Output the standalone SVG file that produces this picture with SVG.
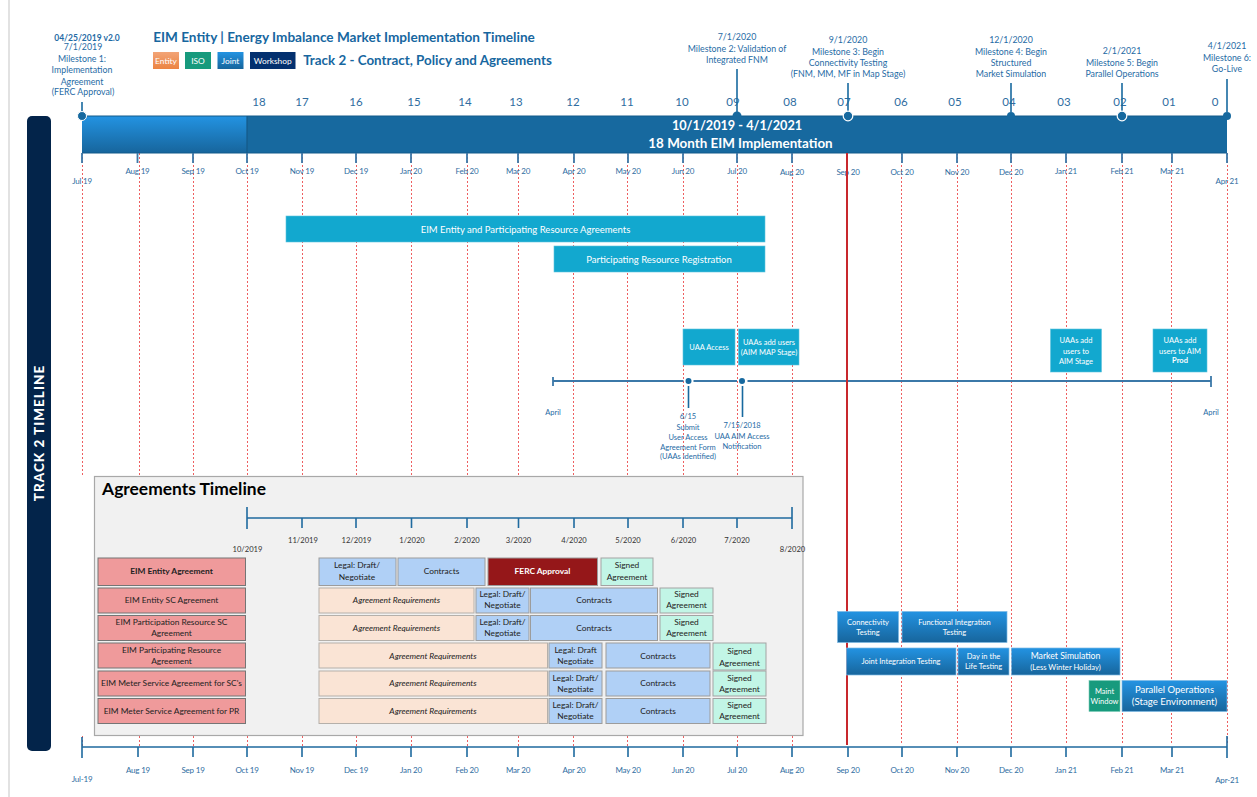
<svg xmlns="http://www.w3.org/2000/svg" width="1257" height="797" viewBox="0 0 1257 797">
<style>
text{font-family:Lato,"Open Sans","Liberation Sans",sans-serif;text-anchor:middle}
.ms{font-size:8.8px;fill:#1f6ba5}
.mo{font-family:"Liberation Sans",Arial,sans-serif;font-size:8px;fill:#2f6d9f;letter-spacing:-.2px}
.cd{font-size:11.5px;fill:#2f6d9f}
.ax{stroke:#1f6a9f;stroke-width:1.6;fill:none}
.axs{stroke:#3b78a8;stroke-width:1.8;fill:none}
.ms-line{stroke:#17699f;stroke-width:1.6;fill:none}
.dash{stroke:#ee5f60;stroke-width:1;stroke-dasharray:2 2;fill:none}
.w{fill:#fff}
.t8{font-size:7.500px}
.cy{fill:#12a8cf;stroke:#5fc3de;stroke-width:.6}
.grad{fill:url(#blue);stroke:#7db9e4;stroke-width:.7}
.r{fill:#ef9a9b;stroke:#757575;stroke-width:1}
.b{fill:#b0d0f6;stroke:#9c9c9c;stroke-width:1}
.p{fill:#fae4d5;stroke:#b5b0aa;stroke-width:1}
.g{fill:#c2f5e6;stroke:#a3a3a3;stroke-width:1}
.k{font-size:8.4px;fill:#222}
.i{font-style:italic}
.d{font-size:7.6px;fill:#333}
.lg{font-size:8.4px;fill:#fff}
</style>
<defs>
<linearGradient id="blue" x1="0" y1="0" x2="0" y2="1"><stop offset="0" stop-color="#2393e2"/><stop offset="1" stop-color="#17659c"/></linearGradient>
<linearGradient id="or" x1="0" y1="0" x2="0" y2="1"><stop offset="0" stop-color="#f2a477"/><stop offset="1" stop-color="#ec8442"/></linearGradient>
</defs>
<rect x="8" y="0" width="2" height="797" fill="#e2e2e2"/>

<g id="gridlines">
<path class="dash" d="M82.500 153V476M139.500 153V476M193.500 153V476M247.500 153V476M302.500 153V476M356.500 153V476M411.500 153V476M467.500 153V476M518.500 153V476M573.500 153V476M627.500 153V476M683.500 153V476M737.500 153V476M792.500 153V476"/>
<path class="dash" d="M82.500 736V746M139.500 736V746M193.500 736V746M247.500 736V746M302.500 736V746M356.500 736V746M411.500 736V746M467.500 736V746M518.500 736V746M573.500 736V746M627.500 736V746M683.500 736V746M737.500 736V746M792.500 736V746"/>
<path class="dash" d="M901.500 153V745M957.500 153V745M1011.500 153V745M1066.500 153V745M1122.500 153V745M1171.500 153V745M1227.500 153V745"/>
</g>

<g id="track-label"><rect x="27" y="116" width="24" height="635" rx="5" fill="#03244a"/>
<text transform="translate(43.500 433) rotate(-90)" font-size="13.500" font-weight="900" fill="#fff" letter-spacing="1">TRACK 2 TIMELINE</text></g>

<g id="header">
<text x="87" y="41" font-size="8.500" font-weight="700" fill="#1f6ba5">04/25/2019  v2.0</text>
<text x="344" y="42" font-size="13.600" font-weight="700" fill="#17679f">EIM Entity | Energy Imbalance Market Implementation Timeline</text>
<text x="427.500" y="65" font-size="13.400" font-weight="700" fill="#17679f">Track 2 - Contract, Policy and Agreements</text>
</g>
<g id="legend">
<rect x="153" y="52" width="26" height="17" fill="url(#or)"/><text class="lg" x="166" y="64">Entity</text>
<rect x="185" y="52" width="26" height="17" fill="#179a7d"/><text class="lg" x="198" y="64">ISO</text>
<rect x="217.500" y="52" width="26" height="17" fill="url(#blue)"/><text class="lg" x="230.500" y="64">Joint</text>
<rect x="250" y="52" width="45.500" height="17" fill="#03306f"/><text class="lg" x="272.700" y="64">Workshop</text>
</g>

<g id="main-bar">
<rect x="82" y="116" width="1145" height="37" fill="#17699f"/>
<rect x="82" y="116" width="165" height="37" fill="url(#blue)"/>
<path d="M247 116V153" stroke="#155a88" stroke-width="1.200"/>
<path d="M82 116H1227M82 153H1227" stroke="#125a8a" stroke-width="1"/>
<text class="w" x="737" y="130" font-size="12.700" font-weight="700">10/1/2019 - 4/1/2021</text>
<text class="w" x="740.500" y="148" font-size="13.400" font-weight="700">18 Month EIM Implementation</text>
</g>

<g id="countdown">
<text class="cd" x="259" y="106">18</text><text class="cd" x="302" y="106">17</text><text class="cd" x="356" y="106">16</text><text class="cd" x="414" y="106">15</text><text class="cd" x="465" y="106">14</text><text class="cd" x="516" y="106">13</text><text class="cd" x="573" y="106">12</text><text class="cd" x="627" y="106">11</text><text class="cd" x="682" y="106">10</text><text class="cd" x="733" y="106">09</text><text class="cd" x="790" y="106">08</text><text class="cd" x="844" y="106">07</text><text class="cd" x="901" y="106">06</text><text class="cd" x="955" y="106">05</text><text class="cd" x="1009" y="106">04</text><text class="cd" x="1064" y="106">03</text><text class="cd" x="1120" y="106">02</text><text class="cd" x="1169" y="106">01</text><text class="cd" x="1215" y="106">0</text>
</g>

<g id="top-ticks">
<path class="axs" d="M82 153V163M137.500 153V163M193 153V163M247 153V163M302 153V163M356 153V163M411 153V163M467 153V163M518 153V163M574 153V163M628 153V163M683 153V163M737 153V163M792 153V163M847 153V163M902 153V163M957 153V163M1011 153V163M1066 153V163M1122 153V163M1172 153V163M1227 153V163"/>
<g class="mo">
<text x="82" y="184">Jul 19</text><text x="137.500" y="174">Aug 19</text><text x="193" y="174">Sep 19</text><text x="247" y="174">Oct 19</text><text x="302" y="174">Nov 19</text><text x="356" y="174">Dec 19</text><text x="411" y="174">Jan 20</text><text x="467" y="174">Feb 20</text><text x="518" y="174">Mar 20</text><text x="574" y="174">Apr 20</text><text x="628" y="174">May 20</text><text x="683" y="174">Jun 20</text><text x="737" y="174">Jul 20</text><text x="792" y="175">Aug 20</text><text x="848" y="175">Sep 20</text><text x="902" y="175">Oct 20</text><text x="957" y="175">Nov 20</text><text x="1011" y="175">Dec 20</text><text x="1066" y="174">Jan 21</text><text x="1122" y="174">Feb 21</text><text x="1172" y="174">Mar 21</text><text x="1227" y="184">Apr 21</text>
</g>
</g>

<g id="milestone-1">
<path class="ms-line" d="M82 102V112"/><circle cx="82" cy="116" r="4.500" fill="#17699f" stroke="#fff" stroke-width="1"/>
<text class="ms" x="83" y="50">7/1/2019</text><text class="ms" x="82" y="62">Milestone 1:</text><text class="ms" x="82" y="73">Implementation</text><text class="ms" x="82" y="85">Agreement</text><text class="ms" x="83" y="95">(FERC Approval)</text>
</g>
<g id="milestone-2">
<path class="ms-line" d="M737 69V112"/><circle cx="737" cy="116" r="4.500" fill="#17699f"/>
<text class="ms" x="737" y="40">7/1/2020</text><text class="ms" x="737" y="52">Milestone 2: Validation of</text><text class="ms" x="737" y="63">Integrated FNM</text>
</g>
<g id="milestone-3">
<path class="ms-line" d="M848 83V112"/><circle cx="848" cy="116" r="4.800" fill="#17699f" stroke="#fff" stroke-width="1.200"/>
<text class="ms" x="848" y="43">9/1/2020</text><text class="ms" x="848" y="55">Milestone 3: Begin</text><text class="ms" x="848" y="66">Connectivity Testing</text><text class="ms" x="848" y="77">(FNM, MM, MF in Map Stage)</text>
</g>
<g id="milestone-4">
<path class="ms-line" d="M1011 83V112"/><circle cx="1011" cy="116" r="4" fill="#17699f"/>
<text class="ms" x="1011" y="43">12/1/2020</text><text class="ms" x="1011" y="55">Milestone 4: Begin</text><text class="ms" x="1011" y="66">Structured</text><text class="ms" x="1011" y="77">Market Simulation</text>
</g>
<g id="milestone-5">
<path class="ms-line" d="M1122 83V112"/><circle cx="1122" cy="116" r="4.800" fill="#17699f" stroke="#fff" stroke-width="1.200"/>
<text class="ms" x="1122" y="54">2/1/2021</text><text class="ms" x="1122" y="66">Milestone 5: Begin</text><text class="ms" x="1122" y="77">Parallel Operations</text>
</g>
<g id="milestone-6">
<path class="ms-line" d="M1227 79V112"/><circle cx="1227" cy="116" r="4" fill="#17699f"/>
<text class="ms" x="1227" y="49">4/1/2021</text><text class="ms" x="1227" y="61">Milestone 6:</text><text class="ms" x="1227" y="72">Go-Live</text>
</g>

<g id="bar-agreements"><rect class="cy" x="286" y="216" width="479" height="26"/><text class="w" x="525.500" y="232.500" font-size="9.500px">EIM Entity and Participating Resource Agreements</text></g>
<g id="bar-registration"><rect class="cy" x="554" y="246" width="211" height="26"/><text class="w" x="659" y="262.500" font-size="9.500px">Participating Resource Registration</text></g>

<g id="uaa-axis">
<path class="axs" d="M553 381H683.500M693.500 381H737M747.500 381H1211M553 377V386M1211 376V387"/>
<circle cx="688.500" cy="381" r="3" fill="#17699f"/><circle cx="742" cy="381" r="3" fill="#17699f"/>
<path class="ms-line" d="M688.500 386V408M742.500 386V417"/>
<text class="ms" style="font-size:7.500px" x="553" y="415">April</text><text class="ms" style="font-size:7.500px" x="1211" y="415">April</text>
<g class="ms" style="font-size:7.500px">
<text x="688" y="419">6/15</text><text x="688" y="430">Submit</text><text x="688" y="440">User Access</text><text x="688" y="450">Agreement Form</text><text x="688" y="459">(UAAs identified)</text>
<text x="742" y="428">7/15/2018</text><text x="742" y="439">UAA AIM Access</text><text x="742" y="449">Notification</text>
</g>
</g>
<g id="uaa-access"><rect class="cy" x="683" y="329" width="52" height="36"/><text class="w t8" x="709" y="350">UAA Access</text></g>
<g id="uaa-map"><rect class="cy" x="738.500" y="329" width="60.500" height="36"/><text class="w t8" x="769" y="345">UAAs add users</text><text class="w t8" x="769" y="355">(AIM MAP Stage)</text></g>
<g id="uaa-stage"><rect class="cy" x="1050.500" y="329" width="51" height="43"/><text class="w t8" x="1076" y="343">UAAs add</text><text class="w t8" x="1076" y="354">users to</text><text class="w t8" x="1076" y="364">AIM Stage</text></g>
<g id="uaa-prod"><rect class="cy" x="1153" y="329" width="54" height="43"/><text class="w t8" x="1180" y="343">UAAs add</text><text class="w t8" x="1180" y="354">users to AIM</text><text class="w t8" x="1180" y="363" font-weight="700">Prod</text></g>

<g id="agreements-panel">
<rect x="94.500" y="476.500" width="708.500" height="259" fill="#f1f1f1" stroke="#a8a8a8" stroke-width="1.200"/>
<text x="184" y="495" font-size="17.400" font-weight="700" fill="#000">Agreements Timeline</text>
<path class="ax" d="M247 518H792M247 507V529M792 507V529M302 518V528M356 518V528M411.500 518V528M467 518V528M518.500 518V528M574 518V528M628 518V528M683 518V528M737 518V528"/>
<text class="d" x="247.500" y="552">10/2019</text><text class="d" x="303" y="543">11/2019</text><text class="d" x="356.500" y="543">12/2019</text><text class="d" x="412" y="543">1/2020</text><text class="d" x="467" y="543">2/2020</text><text class="d" x="518.500" y="543">3/2020</text><text class="d" x="574" y="543">4/2020</text><text class="d" x="628" y="543">5/2020</text><text class="d" x="683.500" y="543">6/2020</text><text class="d" x="737" y="543">7/2020</text><text class="d" x="792.500" y="552">8/2020</text>
</g>

<g id="row-1">
<rect class="r" x="98" y="558" width="147.500" height="27.500"/><text class="k" font-weight="700" x="171.500" y="574">EIM Entity Agreement</text>
<rect class="b" x="319" y="558" width="77" height="27.500"/><text class="k" x="357" y="568">Legal: Draft/</text><text class="k" x="357" y="579.500">Negotiate</text>
<rect class="b" x="398" y="558" width="87" height="27.500"/><text class="k" x="441.500" y="574">Contracts</text>
<rect x="488" y="558" width="109.500" height="27.500" fill="#951719" stroke="#9c9c9c"/><text class="w" font-size="8.400px" font-weight="700" x="542.500" y="574">FERC Approval</text>
<rect class="g" x="601" y="558" width="52" height="27.500"/><text class="k" x="627" y="568">Signed</text><text class="k" x="627" y="579.500">Agreement</text>
</g>
<g id="row-2">
<rect class="r" x="98" y="588" width="147.500" height="25"/><text class="k" x="171.500" y="603">EIM Entity SC Agreement</text>
<rect class="p" x="319" y="588" width="155" height="25"/><text class="k i" x="396.500" y="603">Agreement Requirements</text>
<rect class="b" x="476" y="588" width="53" height="25"/><text class="k" x="502.500" y="597">Legal: Draft/</text><text class="k" x="502.500" y="608">Negotiate</text>
<rect class="b" x="530.500" y="588" width="127" height="25"/><text class="k" x="594" y="603">Contracts</text>
<rect class="g" x="660" y="588" width="53" height="25"/><text class="k" x="686.500" y="597">Signed</text><text class="k" x="686.500" y="608">Agreement</text>
</g>
<g id="row-3">
<rect class="r" x="98" y="615.500" width="147.500" height="25"/><text class="k" x="171.500" y="625">EIM Participation Resource SC</text><text class="k" x="171.500" y="636">Agreement</text>
<rect class="p" x="319" y="615.500" width="155" height="25"/><text class="k i" x="396.500" y="631">Agreement Requirements</text>
<rect class="b" x="476" y="615.500" width="53" height="25"/><text class="k" x="502.500" y="625">Legal: Draft/</text><text class="k" x="502.500" y="636">Negotiate</text>
<rect class="b" x="530.500" y="615.500" width="127" height="25"/><text class="k" x="594" y="631">Contracts</text>
<rect class="g" x="660" y="615.500" width="53" height="25"/><text class="k" x="686.500" y="625">Signed</text><text class="k" x="686.500" y="636">Agreement</text>
</g>
<g id="row-4">
<rect class="r" x="98" y="643" width="147.500" height="25"/><text class="k" x="171.500" y="653">EIM Participating Resource</text><text class="k" x="171.500" y="664">Agreement</text>
<rect class="p" x="319" y="643" width="228.500" height="25"/><text class="k i" x="433" y="658.500">Agreement Requirements</text>
<rect class="b" x="549" y="643" width="53" height="25"/><text class="k" x="575.500" y="653">Legal: Draft</text><text class="k" x="575.500" y="664">Negotiate</text>
<rect class="b" x="606" y="643" width="104" height="25"/><text class="k" x="658" y="658.500">Contracts</text>
<rect class="g" x="713" y="643" width="53" height="27"/><text class="k" x="739.500" y="654">Signed</text><text class="k" x="739.500" y="665.500">Agreement</text>
</g>
<g id="row-5">
<rect class="r" x="98" y="671" width="147.500" height="25"/><text class="k" x="171.500" y="686">EIM Meter Service Agreement for SC's</text>
<rect class="p" x="319" y="671" width="228.500" height="25"/><text class="k i" x="433" y="686">Agreement Requirements</text>
<rect class="b" x="549" y="671" width="53" height="25"/><text class="k" x="575.500" y="680.500">Legal: Draft/</text><text class="k" x="575.500" y="691.500">Negotiate</text>
<rect class="b" x="606" y="671" width="104" height="25"/><text class="k" x="658" y="686">Contracts</text>
<rect class="g" x="713" y="671" width="53" height="25"/><text class="k" x="739.500" y="680.500">Signed</text><text class="k" x="739.500" y="691.500">Agreement</text>
</g>
<g id="row-6">
<rect class="r" x="98" y="698.500" width="147.500" height="25"/><text class="k" x="171.500" y="714">EIM Meter Service Agreement for PR</text>
<rect class="p" x="319" y="698.500" width="228.500" height="25"/><text class="k i" x="433" y="714">Agreement Requirements</text>
<rect class="b" x="549" y="698.500" width="53" height="25"/><text class="k" x="575.500" y="708">Legal: Draft/</text><text class="k" x="575.500" y="719">Negotiate</text>
<rect class="b" x="606" y="698.500" width="104" height="25"/><text class="k" x="658" y="714">Contracts</text>
<rect class="g" x="713" y="698.500" width="53" height="25"/><text class="k" x="739.500" y="708">Signed</text><text class="k" x="739.500" y="719">Agreement</text>
</g>

<path id="today-line" d="M847 153V745" stroke="#c8282d" stroke-width="2"/>

<g id="connectivity"><rect class="grad" x="837.500" y="611.500" width="61" height="31"/><text class="w t8" x="868" y="625">Connectivity</text><text class="w t8" x="868" y="635">Testing</text></g>
<g id="functional"><rect class="grad" x="902" y="611.500" width="105" height="31"/><text class="w t8" x="954.500" y="625">Functional Integration</text><text class="w t8" x="954.500" y="635">Testing</text></g>
<g id="joint"><rect class="grad" x="846.500" y="648" width="109.500" height="27"/><text class="w t8" x="901" y="664">Joint Integration Testing</text></g>
<g id="day-life"><rect class="grad" x="958" y="648" width="51" height="27"/><text class="w t8" x="983.500" y="659">Day in the</text><text class="w t8" x="983.500" y="669">Life Testing</text></g>
<g id="market-sim"><rect class="grad" x="1011.500" y="648" width="108.500" height="27"/><text class="w" font-size="8.700px" x="1065.500" y="658.500">Market Simulation</text><text class="w" font-size="7.600px" x="1065.500" y="670">(Less Winter Holiday)</text></g>
<g id="maint"><rect x="1089" y="680.500" width="31" height="31" fill="#179a7d" stroke="#7ccbb7" stroke-width=".6"/><text class="w t8" x="1104.500" y="694">Maint</text><text class="w t8" x="1104.500" y="704">Window</text></g>
<g id="parallel"><rect class="grad" x="1122" y="680.500" width="105" height="31"/><text class="w" font-size="9.500px" x="1174.500" y="693">Parallel Operations</text><text class="w" font-size="9.700px" x="1174.500" y="705">(Stage Environment)</text></g>

<g id="bottom-axis">
<path class="ax" d="M82 747H1227M82 737V758M1227 736V758M138 747V757M193 747V757M247 747V757M302 747V757M356 747V757M411 747V757M467 747V757M518 747V757M574 747V757M628 747V757M683 747V757M737 747V757M792 747V757M848 747V757M902 747V757M957 747V757M1011 747V757M1066 747V757M1122 747V757M1172 747V757"/>
<g class="mo">
<text x="82" y="782">Jul-19</text><text x="138" y="773">Aug 19</text><text x="193" y="773">Sep 19</text><text x="247" y="773">Oct 19</text><text x="302" y="773">Nov 19</text><text x="356" y="773">Dec 19</text><text x="411" y="773">Jan 20</text><text x="467" y="773">Feb 20</text><text x="518" y="773">Mar 20</text><text x="574" y="773">Apr 20</text><text x="628" y="773">May 20</text><text x="683" y="773">Jun 20</text><text x="737" y="773">Jul 20</text><text x="792" y="773">Aug 20</text><text x="848" y="773">Sep 20</text><text x="902" y="773">Oct 20</text><text x="957" y="773">Nov 20</text><text x="1011" y="773">Dec 20</text><text x="1066" y="773">Jan 21</text><text x="1122" y="773">Feb 21</text><text x="1172" y="773">Mar 21</text><text x="1227" y="783">Apr-21</text>
</g>
</g>
</svg>
